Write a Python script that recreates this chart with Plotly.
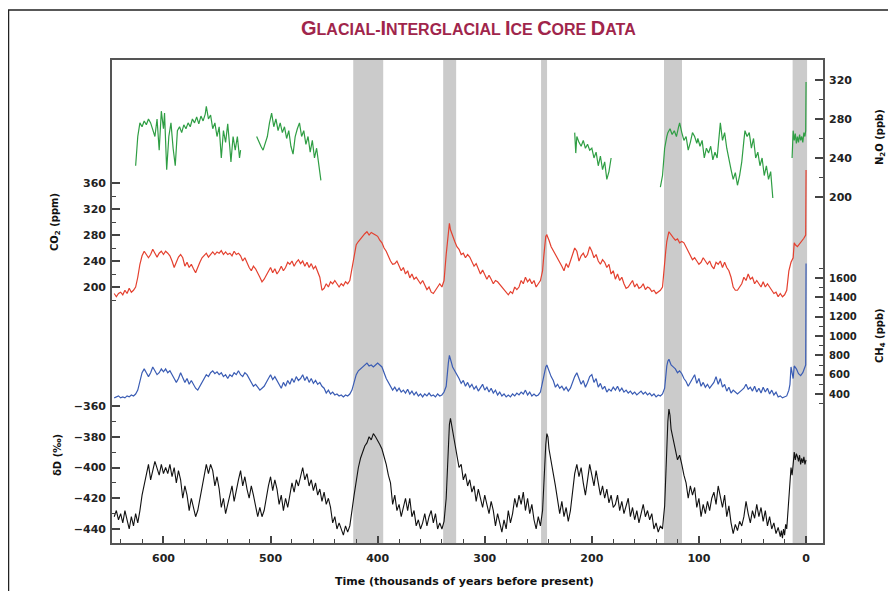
import plotly.graph_objects as go

# ---------------- data (ages in kyr before present) ----------------
DD_AGE = [0,1,2,3,4,5,6,7,8,9,10,11,12,13,14,15,16,17,18,19,20,21,22,23,24,
          26,28,30,32,34,36,38,40,42,44,46,48,50,52,54,56,58,60,62,
          64,66,68,70,72,74,76,78,80,82,84,86,88,90,92,94,96,98,100,
          102,104,106,108,110,112,114,116,118,120,122,124,126,127,128,129,130,131,132,133,134,136,
          138,140,142,144,146,148,150,152,154,156,158,160,162,164,166,168,170,172,174,176,
          178,180,182,184,186,188,190,192,194,196,198,200,202,204,206,208,210,212,214,216,
          218,220,222,224,226,228,230,232,234,236,238,240,241,242,243,244,245,246,248,
          250,252,254,256,258,260,262,264,266,268,270,272,274,276,278,280,282,284,286,288,
          290,292,294,296,298,300,302,304,306,308,310,312,314,316,318,320,322,324,326,328,
          330,332,333,334,335,336,338,340,342,344,346,348,350,352,354,356,358,360,362,364,
          366,368,370,372,374,376,378,380,382,384,386,388,390,392,394,396,398,400,402,404,
          406,408,410,412,414,416,418,420,422,424,426,428,430,432,434,436,438,440,442,444,
          446,448,450,452,454,456,458,460,462,464,466,468,470,472,474,476,478,480,482,484,
          486,488,490,492,494,496,498,500,502,504,506,508,510,512,514,516,518,520,522,524,
          526,528,530,532,534,536,538,540,542,544,546,548,550,552,554,556,558,560,562,564,
          566,568,570,572,574,576,578,580,582,584,586,588,590,592,594,596,598,600,602,604,
          606,608,610,612,614,616,618,620,622,624,626,628,630,632,634,636,638,640,642,644,646]
DD_VAL = [-395,-398,-393,-397,-394,-398,-392,-396,-393,-391,-395,-390,-398,-405,-400,-412,-420,-432,-440,-437,-444,-440,-446,-441,-445,
          -439,-443,-436,-440,-432,-438,-428,-435,-426,-432,-424,-433,-428,-436,-430,-422,-432,-438,-435,
          -441,-437,-443,-436,-425,-432,-418,-426,-420,-412,-424,-416,-420,-428,-422,-430,-424,-432,-420,
          -426,-413,-418,-412,-420,-410,-405,-398,-392,-395,-388,-382,-375,-366,-362,-370,-388,-410,-425,-432,-440,-438,
          -442,-436,-440,-430,-434,-428,-432,-424,-430,-436,-428,-434,-426,-432,-420,-425,-430,-422,-428,-418,
          -424,-426,-418,-423,-414,-420,-412,-418,-410,-402,-412,-405,-398,-408,-418,-410,-400,-406,-398,-404,
          -418,-428,-435,-426,-432,-422,-430,-420,-412,-404,-395,-388,-380,-378,-385,-400,-415,-428,-438,
          -432,-440,-434,-424,-430,-420,-428,-416,-424,-418,-426,-420,-430,-436,-428,-440,-434,-442,-436,-430,
          -438,-428,-422,-430,-424,-418,-426,-420,-414,-422,-412,-416,-408,-412,-404,-408,-398,-400,-392,-385,
          -378,-368,-372,-385,-400,-420,-435,-440,-436,-440,-430,-436,-428,-432,-438,-430,-436,-440,-434,-438,
          -428,-432,-420,-428,-420,-426,-432,-424,-428,-418,-424,-410,-405,-398,-392,-388,-385,-382,-380,-378,
          -382,-380,-384,-386,-390,-394,-400,-408,-418,-428,-438,-442,-438,-444,-440,-436,-440,-432,-436,-426,
          -420,-424,-416,-422,-414,-418,-410,-415,-408,-412,-404,-408,-400,-406,-412,-408,-416,-410,-418,-426,
          -420,-428,-418,-424,-414,-408,-415,-406,-412,-420,-428,-432,-426,-432,-424,-418,-412,-420,-414,-406,
          -412,-402,-408,-416,-422,-412,-418,-425,-430,-420,-426,-414,-406,-412,-402,-398,-404,-398,-406,-412,
          -420,-428,-432,-426,-420,-428,-418,-412,-420,-408,-402,-410,-400,-406,-398,-404,-400,-404,-398,-405,
          -400,-396,-402,-408,-398,-404,-410,-418,-428,-436,-430,-438,-432,-440,-434,-428,-436,-430,-434,-428,-432]

CO2_AGE = [-0.05,0.1,0.3,2,4,6,8,10,11,12,14,16,18,20,22,24,26,28,30,
           32,34,36,38,40,42,44,46,48,50,52,54,56,58,60,62,64,66,68,70,
           72,74,76,78,80,82,84,86,88,90,92,94,96,98,100,102,104,106,108,110,
           112,114,116,118,120,122,124,126,128,129,130,131,132,133,134,136,138,140,
           142,144,146,148,150,152,154,156,158,160,162,164,166,168,170,172,174,176,178,180,
           182,184,186,188,190,192,194,196,198,200,202,204,206,208,210,212,214,216,218,220,
           222,224,226,228,230,232,234,236,238,240,242,243,244,245,246,248,
           250,252,254,256,258,260,262,264,266,268,270,272,274,276,278,280,282,284,286,288,
           290,292,294,296,298,300,302,304,306,308,310,312,314,316,318,320,322,324,326,328,
           330,332,333,334,335,336,337,338,340,342,344,346,348,350,352,354,356,358,360,
           362,364,366,368,370,372,374,376,378,380,382,384,386,388,390,392,394,396,398,400,
           402,404,406,408,410,412,414,416,418,420,422,424,426,428,430,432,434,436,438,440,
           442,444,446,448,450,452,454,456,458,460,462,464,466,468,470,472,474,476,478,480,
           482,484,486,488,490,492,494,496,498,500,502,504,506,508,510,512,514,516,518,520,
           522,524,526,528,530,532,534,536,538,540,542,544,546,548,550,552,554,556,558,560,
           562,564,566,568,570,572,574,576,578,580,582,584,586,588,590,592,594,596,598,600,
           602,604,606,608,610,612,614,616,618,620,622,624,626,628,630,632,634,636,638,640,642,644,646]
CO2_VAL = [380,300,280,275,270,265,262,265,268,245,238,225,195,188,185,190,185,192,190,
           195,200,205,200,208,200,205,210,205,215,212,220,210,215,205,200,195,195,200,215,
           225,230,238,230,240,235,238,228,232,240,235,240,245,238,235,240,245,242,248,255,
           262,268,270,268,274,272,276,280,285,278,270,255,235,215,200,195,192,190,
           195,193,198,200,196,205,200,198,205,200,210,205,200,198,205,215,210,220,212,225,
           220,235,230,238,242,235,240,250,245,255,262,250,245,252,248,240,255,260,250,240,
           230,236,225,232,238,244,250,258,262,272,280,278,265,245,225,210,
           205,200,210,205,212,208,215,205,210,200,196,200,190,193,188,192,197,200,205,208,
           210,205,212,218,212,220,226,220,228,236,232,240,246,250,245,252,250,258,262,270,
           280,288,298,285,270,250,230,210,200,205,200,195,190,192,200,196,202,210,205,
           210,215,212,220,214,225,220,230,225,232,240,236,235,240,248,255,260,268,272,278,
           280,282,284,280,285,282,278,275,270,265,245,225,210,205,208,202,205,200,205,210,
           205,208,200,205,198,195,215,225,232,228,236,230,238,232,240,236,242,238,232,240,
           235,238,230,225,232,225,220,228,222,230,225,218,212,208,215,222,228,232,225,230,
           238,245,240,248,252,250,255,248,252,250,254,250,256,252,254,250,254,250,246,252,
           248,245,238,230,222,228,235,230,238,232,245,250,246,238,230,240,248,252,255,250,
           255,252,246,252,258,250,245,250,255,248,235,215,200,195,192,198,190,195,188,192,190,185,190]

CH4_AGE = [-0.05,0.1,0.3,1,3,5,7,9,11,12,13,14,15,16,18,20,22,24,26,28,
           30,32,34,36,38,40,42,44,46,48,50,52,54,56,58,60,62,64,66,68,
           70,72,74,76,78,80,82,84,86,88,90,92,94,96,98,100,102,104,106,108,
           110,112,114,116,118,120,122,124,126,128,129,130,131,132,134,136,138,140,
           142,144,146,148,150,152,154,156,158,160,162,164,166,168,170,172,174,176,178,180,
           182,184,186,188,190,192,194,196,198,200,202,204,206,208,210,212,214,216,218,220,
           222,224,226,228,230,232,234,236,238,240,242,243,244,246,248,
           250,252,254,256,258,260,262,264,266,268,270,272,274,276,278,280,282,284,286,288,
           290,292,294,296,298,300,302,304,306,308,310,312,314,316,318,320,322,324,326,328,330,
           332,333,334,335,336,338,340,342,344,346,348,350,352,354,356,358,360,
           362,364,366,368,370,372,374,376,378,380,382,384,386,388,390,392,394,396,398,400,
           402,404,406,408,410,412,414,416,418,420,422,424,426,428,430,432,434,436,438,440,
           442,444,446,448,450,452,454,456,458,460,462,464,466,468,470,472,474,476,478,480,
           482,484,486,488,490,492,494,496,498,500,502,504,506,508,510,512,514,516,518,520,
           522,524,526,528,530,532,534,536,538,540,542,544,546,548,550,552,554,556,558,560,
           562,564,566,568,570,572,574,576,578,580,582,584,586,588,590,592,594,596,598,600,
           602,604,606,608,610,612,614,616,618,620,622,624,626,628,630,632,634,636,638,640,642,644,646]
CH4_VAL = [1750,900,700,680,620,590,610,660,690,560,620,680,500,440,380,370,360,380,370,420,
           390,440,400,460,420,470,410,460,420,480,430,470,450,500,460,440,420,400,420,440,
           410,470,430,500,470,560,500,580,520,490,460,500,470,520,480,560,510,600,560,520,
           480,530,560,610,640,620,660,680,700,760,740,690,560,460,400,380,390,370,
           400,380,410,390,420,400,430,410,390,420,400,430,410,440,420,460,430,480,440,470,
           430,450,420,480,450,510,470,560,520,600,580,520,470,540,500,560,620,580,520,460,
           430,470,440,480,460,500,470,540,580,640,700,680,620,520,420,
           390,380,400,380,420,390,440,400,420,390,410,380,400,370,390,370,400,380,420,390,
           440,410,460,420,470,440,500,460,430,480,450,500,470,520,480,540,510,560,600,640,680,
           760,800,720,600,480,420,390,380,400,370,390,380,410,380,400,370,400,
           380,420,390,430,400,450,410,440,420,460,430,470,440,480,520,560,620,680,700,720,
           700,680,700,690,720,700,680,660,640,600,520,440,400,380,390,370,390,380,400,390,
           420,400,440,410,460,480,520,500,540,510,560,520,580,540,600,560,540,580,520,560,
           500,540,480,520,460,500,540,580,550,600,560,520,480,460,440,470,500,480,520,560,
           600,620,580,600,640,600,620,580,600,560,600,580,620,600,630,610,640,620,580,600,
           560,520,480,440,460,500,540,500,560,520,580,620,560,520,560,600,640,620,660,630,
           660,620,600,640,680,620,580,620,660,620,520,440,400,380,390,370,380,360,370,360,380,370,360]

# N2O exists only in separate core sections
N2O_E_AGE = [-0.05,0.1,0.3,1,2,3,4,5,6,7,8,9,10,11,12,13]
N2O_E_VAL = [318,285,268,262,266,256,262,258,264,256,262,255,265,258,268,240]
N2O_D_AGE = [31,33,35,37,39,41,43,45,47,49,51,53,55,57,58,60,62,64,66,68,70,72,74,76,78,80,81,83,85,87,
             89,91,93,95,97,99,101,102,104,106,108,110,112,114,116,118,119,121,123,125,127,129,130,132,134,136]
N2O_D_VAL = [199,226,218,232,222,240,232,246,240,260,250,266,262,268,258,236,222,212,225,218,228,238,250,266,258,276,262,240,246,238,
             252,245,250,240,258,252,260,255,262,266,256,248,262,258,266,276,272,262,268,264,270,266,262,250,222,210]
N2O_C_AGE = [182,184,186,188,190,192,194,196,198,200,202,204,206,208,210,212,214,215,216]
N2O_C_VAL = [240,226,218,236,228,242,232,246,240,250,248,254,250,258,252,256,262,245,266]
N2O_B_AGE = [453,455,457,459,461,463,465,467,469,471,473,475,477,479,481,483,485,487,489,491,493,495,497,499,501,503,505,507,509,511,513]
N2O_B_VAL = [217,232,250,240,258,246,262,254,268,262,276,270,262,244,252,268,260,272,266,276,268,280,272,286,276,262,256,248,252,258,262]
N2O_A_AGE = [528,529,531,533,535,537,538,540,542,544,546,548,550,552,554,556,558,560,561,563,565,567,569,571,573,575,577,579,581,583,
             585,587,589,591,593,595,597,599,600,602,604,606,608,610,612,614,616,618,620,622,624,626]
N2O_A_VAL = [248,240,262,248,262,236,250,275,256,268,240,272,262,276,270,284,280,293,285,278,283,275,282,276,280,272,276,270,274,266,
             272,268,232,250,276,262,228,286,270,288,248,280,262,270,276,280,274,278,272,276,262,232]

INTERGLACIALS = [(-1.0, 12.5), (115.8, 132.6), (241.8, 247.4), (326.7, 338.8), (394.8, 422.8)]

X_TICKS = [0, 100, 200, 300, 400, 500, 600]
CO2_TICKS = [200, 240, 280, 320, 360]
CO2_MINOR = [180, 220, 260, 300, 340]
DD_TICKS = [-440, -420, -400, -380, -360]
DD_MINOR = [-430, -410, -390, -370]
N2O_TICKS = [200, 240, 280, 320]
N2O_MINOR = [220, 260, 300]
CH4_TICKS = [400, 600, 800, 1000, 1200, 1400, 1600]
CH4_MINOR = [300, 500, 700, 900, 1100, 1300, 1500, 1700]

TITLE = "Glacial-Interglacial Ice Core Data"
X_TITLE = "Time (thousands of years before present)"
CO2_TITLE = "CO<sub>2</sub> (ppm)"
DD_TITLE = "δD (‰)"
N2O_TITLE = "N<sub>2</sub>O (ppb)"
CH4_TITLE = "CH<sub>4</sub> (ppb)"

# ---------------- layout helpers ----------------
# the page body has an 8px margin, so the figure is placed at (8, 8) in the window
OFF = 8
W, H = 896 - 2 * OFF, 599 - 2 * OFF
PLOT_L, PLOT_R, PLOT_T, PLOT_B = 111, 824, 59, 544          # window pixels of the plot frame
L, R, T, B = PLOT_L - OFF, W - (PLOT_R - OFF), PLOT_T - OFF, H - (PLOT_B - OFF)
PW, PH = W - L - R, H - T - B


def px(xp):
    return (xp - PLOT_L) / PW


def py(yp):
    return (PLOT_B - yp) / PH


def small_caps(s, big, small):
    out, cur, buf = [], None, ""
    for ch in s:
        size = big if ch.isupper() else small
        if size != cur and buf:
            out.append(f'<span style="font-size:{cur}px">{buf}</span>')
            buf = ""
        cur = size
        buf += ch.upper()
    if buf:
        out.append(f'<span style="font-size:{cur}px">{buf}</span>')
    return "".join(out)


def n2o_series():
    xs, ys = [], []
    for a, v in [(N2O_E_AGE, N2O_E_VAL), (N2O_D_AGE, N2O_D_VAL), (N2O_C_AGE, N2O_C_VAL),
                 (N2O_B_AGE, N2O_B_VAL), (N2O_A_AGE, N2O_A_VAL)]:
        assert len(a) == len(v)
        xs += list(a) + [None]
        ys += list(v) + [None]
    return xs, ys


assert len(DD_AGE) == len(DD_VAL), (len(DD_AGE), len(DD_VAL))
assert len(CO2_AGE) == len(CO2_VAL), (len(CO2_AGE), len(CO2_VAL))
assert len(CH4_AGE) == len(CH4_VAL), (len(CH4_AGE), len(CH4_VAL))

TICKFONT = dict(family="DejaVu Sans", size=11, color="#222", weight="bold")
TICKCOL = "#444"

fig = go.Figure()
nx, ny = n2o_series()
fig.add_trace(go.Scatter(x=nx, y=ny, yaxis="y3", mode="lines", connectgaps=False,
                         line=dict(color="#2f9e44", width=1.2), hoverinfo="skip"))
fig.add_trace(go.Scatter(x=CO2_AGE, y=CO2_VAL, yaxis="y", mode="lines",
                         line=dict(color="#e4402f", width=1.2), hoverinfo="skip"))
fig.add_trace(go.Scatter(x=CH4_AGE, y=CH4_VAL, yaxis="y4", mode="lines",
                         line=dict(color="#3a5cb4", width=1.2), hoverinfo="skip"))
fig.add_trace(go.Scatter(x=DD_AGE, y=DD_VAL, yaxis="y2", mode="lines",
                         line=dict(color="#111111", width=1.1), hoverinfo="skip"))


def yax(rng, tv, mv, side, tlen=9, font=TICKFONT, overlay=True):
    d = dict(range=rng, tickmode="array", tickvals=tv, ticks="inside", ticklen=tlen,
             tickwidth=1.5, tickcolor=TICKCOL, showgrid=False, zeroline=False, showline=False,
             tickfont=font, side=side, anchor="x", ticklabelstandoff=4,
             minor=dict(tickmode="array", tickvals=mv, ticks="inside", ticklen=5,
                        tickwidth=1.2, tickcolor=TICKCOL, showgrid=False))
    if overlay:
        d["overlaying"] = "y"
    return d


shapes = []
for a0, a1 in INTERGLACIALS:
    shapes.append(dict(type="rect", xref="x", yref="paper", x0=a0, x1=a1, y0=0, y1=1,
                       fillcolor="#cbcbcb", line=dict(width=0), layer="below"))
shapes.append(dict(type="rect", xref="paper", yref="paper", x0=0, x1=1, y0=0, y1=1,
                   line=dict(color="#555", width=2), layer="above"))
shapes.append(dict(type="rect", xref="paper", yref="paper", x0=px(8.5), x1=px(920), y0=py(620), y1=py(10),
                   line=dict(color="#222", width=1.5), layer="above"))

AXFONT = dict(family="DejaVu Sans", size=10, color="#111", weight="bold")
annotations = [
    dict(text=small_caps(TITLE, 20, 16), x=px(468), y=py(28), xref="paper", yref="paper",
         showarrow=False, xanchor="center", yanchor="middle",
         font=dict(family="Liberation Sans", size=16, color="#a0254b", weight="bold")),
    dict(text=X_TITLE, x=px(464), y=py(581), xref="paper", yref="paper", showarrow=False,
         xanchor="center", yanchor="middle",
         font=dict(family="DejaVu Sans", size=11, color="#111", weight="bold")),
    dict(text=CO2_TITLE, x=px(55), y=py(222), xref="paper", yref="paper", showarrow=False,
         textangle=-90, xanchor="center", yanchor="middle", font=AXFONT),
    dict(text=DD_TITLE, x=px(57), y=py(455), xref="paper", yref="paper", showarrow=False,
         textangle=-90, xanchor="center", yanchor="middle", font=AXFONT),
    dict(text=N2O_TITLE, x=px(880), y=py(137), xref="paper", yref="paper", showarrow=False,
         textangle=-90, xanchor="center", yanchor="middle", font=AXFONT),
    dict(text=CH4_TITLE, x=px(880), y=py(336), xref="paper", yref="paper", showarrow=False,
         textangle=-90, xanchor="center", yanchor="middle", font=AXFONT),
]

fig.update_layout(
    width=W, height=H, margin=dict(l=L, r=R, t=T, b=B, pad=0),
    paper_bgcolor="white", plot_bgcolor="white", showlegend=False,
    xaxis=dict(range=[649.0, -16.8], domain=[0, 1], tickmode="array", tickvals=X_TICKS,
               ticks="inside", ticklen=8, tickwidth=1.5, tickcolor=TICKCOL,
               showgrid=False, zeroline=False, showline=False, tickfont=TICKFONT,
               ticklabelstandoff=6,
               minor=dict(dtick=20, tick0=0, ticks="inside", ticklen=5, tickwidth=1.2,
                          tickcolor=TICKCOL, showgrid=False)),
    yaxis=yax([-195.4, 550.8], CO2_TICKS, CO2_MINOR, "left", overlay=False),
    yaxis2=yax([-449.76, -134.3], DD_TICKS, DD_MINOR, "left"),
    yaxis3=yax([-155.9, 341.5], N2O_TICKS, N2O_MINOR, "right"),
    yaxis4=yax([-1151.7, 3865.5], CH4_TICKS, CH4_MINOR, "right",
               font=dict(family="DejaVu Sans", size=10, color="#222", weight="bold")),
    shapes=shapes, annotations=annotations,
)

fig.write_html("out.html")
